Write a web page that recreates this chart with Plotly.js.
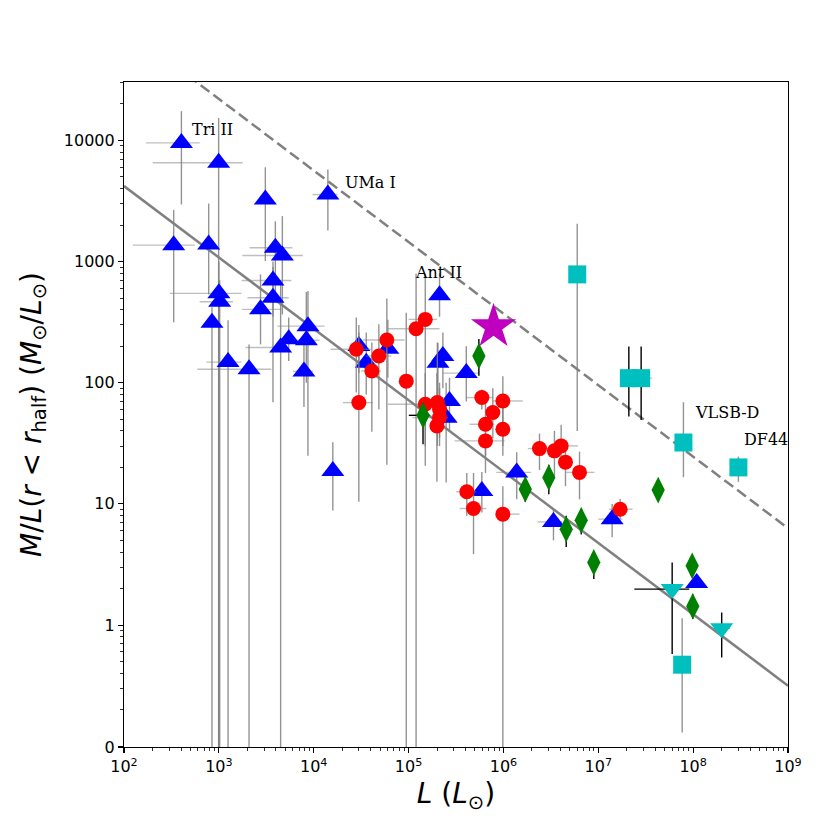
<!DOCTYPE html>
<html>
<head>
<meta charset="utf-8">
<script src="https://cdn.plot.ly/plotly-3.0.1.min.js"></script>
<style>html,body{margin:0;padding:0;background:#fff;}#chart{width:830px;height:830px;}</style>
</head>
<body>
<div id="chart"></div>
<script>
// ---------------- data ----------------
// reference relations
const fitL = [1e2, 1e9];
const fitML = [4190, 0.316];
const boundML = [85500, 6.3];

// Milky Way dwarfs (blue triangles)
const mwL   = [403, 995, 3090, 14100, 334, 781, 3940, 4670, 3720, 3720, 1000, 1020, 846, 1250, 2080, 2750, 4480, 5450, 8360, 8690, 7890, 15900, 29900, 35800, 60500, 204000, 230000, 406000, 270000, 249000, 592000, 1380000, 3370000, 14000000, 109000000, 212000];
const mwML  = [9530, 6530, 3250, 3570, 1365, 1380, 1300, 1122, 698, 503, 546, 465, 313, 148, 129, 403, 195, 228, 224, 293, 124, 18.7, 201, 146, 191, 146, 166, 120, 70.7, 51.5, 12.8, 18.2, 7.1, 7.48, 2.22, 528];
const mwLlo = [170, 201, null, 9720, 124, null, 2110, 1770, 1740, 2000, 303, 628, null, 738, 593, 1750, 1910, null, 6560, 4130, 6040, null, null, null, null, null, null, 230000, null, null, null, 840000, 2290000, 10000000, null, null];
const mwLhi = [628, 1780, null, 17800, 556, null, 5960, 7690, 5810, 5450, 1727, 1410, null, 1730, 3570, 4560, 4930, null, 11500, 13000, 9820, null, null, null, null, null, null, 537000, null, null, null, 1960000, 4170000, 18000000, null, null];
const mwMLlo = [2960, 0, 1010, 1800, 315, 535, 500, 366, 350, 69, 0, 0, 0, 0, 0, 207, 0, 151, 100, 25, 63, 8.8, 120, 80, 110, 60, 90, 70, 40, 15, 8.5, 10.9, 5, 5.3, null, 350];
const mwMLhi = [17400, 15300, 6000, 5740, 2670, 3010, 2150, 2370, 1000, 900, 1000, 700, 420, 327, 207, 783, 700, 346, 560, 570, 250, 32.3, 300, 260, 330, 214, 260, 200, 110, 100, 18.3, 26.7, 9, 10, null, 800];

// M31 dwarfs (red circles)
const m31L   = [28100, 29900, 41000, 48600, 59000, 94600, 120000, 150000, 150000, 201000, 212000, 212000, 199000, 592000, 986000, 773000, 647000, 986000, 647000, 411000, 484000, 986000, 2400000, 3450000, 4060000, 4510000, 6340000, 17000000];
const m31ML  = [189, 68.5, 125, 166, 225, 103, 279, 333, 66.4, 68.5, 60.4, 51.5, 44, 75.4, 70.7, 56.7, 45.4, 41.3, 33.1, 12.6, 9.16, 8.23, 28.6, 27.4, 30.1, 22.1, 18.2, 9.04];
const m31Llo = [15000, 20300, 31600, 35800, 33000, null, 60500, 100000, 60500, null, null, 110000, null, 406000, 773000, null, 440000, null, 305000, 318000, 345000, 840000, 1810000, null, 3900000, null, 4600000, 13000000];
const m31Lhi = [40000, 42100, 51000, 65800, 90800, null, 212000, 200000, 200000, null, null, 260000, null, 773000, 1600000, null, 800000, null, 1030000, 517000, 660000, 1480000, 3190000, null, 6100000, null, 9100000, 23000000];
const m31MLlo = [83, 10.4, 39.3, 60.4, 21, 0, 0, 20.6, 30, 30, 35, 30, 15.2, 60, 30, 35, 25, 25, 18, 8, 3.85, 0, 19, 17, 20, 14, 10.9, 7.5];
const m31MLhi = [346, 260, 215, 303, 496, 378, 794, 794, 120, 214, 100, 90, 120, 88, 113, 90, 70, 65, 50, 18, 18, 14, 38, 40, 45, 32, 27, 11];

// green diamonds
const gL    = [142000, 551000, 1700000, 3010000, 4590000, 6610000, 8970000, 42800000, 97700000, 99100000];
const gML   = [53.8, 166, 13.2, 16.5, 6.19, 7.34, 3.29, 13.0, 3.08, 1.43];
const gLlo  = [100700, null, null, null, null, null, null, null, null, null];
const gLhi  = [166000, null, null, null, null, null, null, null, null, null];
const gMLlo = [31, 114, 10.4, 12, 4.4, 5.6, 2.4, 11, 2.7, 1.12];
const gMLhi = [68, 229, 17, 21, 8, 9, 4, 15, 3.5, 1.8];

// cyan squares (grey error bars)
const sqL    = [6000000, 79000000, 300000000, 76600000];
const sqML   = [783, 32.1, 20, 0.471];
const sqMLlo = [39.9, 16.6, 15.2, 0.13];
const sqMLhi = [2050, 69, 24.6, 1.14];
// cyan squares (black error bars)
const sqbL    = [21000000, 28300000];
const sqbML   = [109, 109];
const sqbLlo  = [null, null];
const sqbLhi  = [null, 37000000];
const sqbMLlo = [52.6, 49.3];
const sqbMLhi = [199, 199];

// cyan down triangles
const tdL    = [60100000, 200000000];
const tdML   = [1.98, 0.94];
const tdLlo  = [24000000, 167000000];
const tdLhi  = [91000000, 241000000];
const tdMLlo = [0.577, 0.54];
const tdMLhi = [3.29, 1.27];

// star
const starL  = [787000];
const starML = [290];

// labels
const labNames = ['Tri II', 'UMa I', 'Ant II', 'VLSB-D', 'DF44'];
const labL     = [501, 20300, 111000, 100700000, 325000000];
const labML    = [12400, 4510, 805, 57, 33.8];

// ticks
const xTickVals = [1e2, 1e3, 1e4, 1e5, 1e6, 1e7, 1e8, 1e9];
const xTickText = ['10<sup>2</sup>', '10<sup>3</sup>', '10<sup>4</sup>', '10<sup>5</sup>', '10<sup>6</sup>', '10<sup>7</sup>', '10<sup>8</sup>', '10<sup>9</sup>'];
const yZero = 0.0986;
const yTickVals = [yZero, 1, 10, 100, 1000, 10000];
const yTickText = ['0', '1', '10', '100', '1000', '10000'];
const minorSubs = [2, 3, 4, 5, 6, 7, 8, 9];

// ---------------- helpers ----------------
function plus(v, hi)  { return v.map((x, i) => hi[i] == null ? NaN : hi[i] - x); }
function minus(v, lo) { return v.map((x, i) => lo[i] == null ? NaN : x - lo[i]); }
function minors(d0, d1) { const out = []; for (let d = d0; d <= d1; d++) minorSubs.forEach(s => out.push(s * Math.pow(10, d))); return out; }

const GREY_Y = 'rgba(128,128,128,0.85)';
const GREY_X = 'rgba(128,128,128,0.5)';

function errBar(v, lo, hi, color) { return {type: 'data', symmetric: false, array: plus(v, hi), arrayminus: minus(v, lo), color: color, thickness: 1.4, width: 0}; }

const traces = [
  {x: fitL, y: fitML, mode: 'lines', line: {color: '#808080', width: 2.5}, hoverinfo: 'skip'},
  {x: fitL, y: boundML, mode: 'lines', line: {color: '#808080', width: 2.5, dash: '11px,5px'}, hoverinfo: 'skip'},
  {x: mwL, y: mwML, mode: 'markers', marker: {symbol: 'triangle-up', size: 20, color: '#0000ff'},
   error_y: errBar(mwML, mwMLlo, mwMLhi, GREY_Y), error_x: errBar(mwL, mwLlo, mwLhi, GREY_X)},
  {x: m31L, y: m31ML, mode: 'markers', marker: {symbol: 'circle', size: 15, color: '#ff0000'},
   error_y: errBar(m31ML, m31MLlo, m31MLhi, GREY_Y), error_x: errBar(m31L, m31Llo, m31Lhi, GREY_X)},
  {x: gL, y: gML, mode: 'markers', marker: {symbol: 'diamond-tall', size: 19, color: '#008000'},
   error_y: errBar(gML, gMLlo, gMLhi, '#000'), error_x: errBar(gL, gLlo, gLhi, '#000')},
  {x: sqL, y: sqML, mode: 'markers', marker: {symbol: 'square', size: 18, color: '#00bfbf'},
   error_y: errBar(sqML, sqMLlo, sqMLhi, GREY_Y)},
  {x: sqbL, y: sqbML, mode: 'markers', marker: {symbol: 'square', size: 18, color: '#00bfbf'},
   error_y: errBar(sqbML, sqbMLlo, sqbMLhi, '#000'), error_x: errBar(sqbL, sqbLlo, sqbLhi, GREY_X)},
  {x: tdL, y: tdML, mode: 'markers', marker: {symbol: 'triangle-down', size: 20, color: '#00bfbf'},
   error_y: errBar(tdML, tdMLlo, tdMLhi, '#000'), error_x: errBar(tdL, tdLlo, tdLhi, '#000')},
  {x: starL, y: starML, mode: 'markers', marker: {symbol: 'star', size: 34, color: '#bf00bf'}}
];

const annotations = labNames.map((t, i) => ({
  x: Math.log10(labL[i]), y: Math.log10(labML[i]), xref: 'x', yref: 'y', text: t, showarrow: false,
  xanchor: 'left', yanchor: 'middle', font: {family: 'DejaVu Serif', size: 16, color: '#000'}
}));

const axisBase = {
  type: 'log', showgrid: false, zeroline: false, showline: true, mirror: true,
  linecolor: '#000', linewidth: 1.1, ticks: 'outside', ticklen: 5, tickwidth: 1.1, tickcolor: '#000',
  tickfont: {family: 'DejaVu Sans', size: 16, color: '#000'}, tickmode: 'array', automargin: false
};

const layout = {
  width: 830, height: 830,
  margin: {l: 124, r: 42, t: 82, b: 83, pad: 0},
  paper_bgcolor: '#fff', plot_bgcolor: '#fff', showlegend: false,
  font: {family: 'DejaVu Sans', color: '#000'},
  xaxis: Object.assign({}, axisBase, {
    range: [2, 9], tickvals: xTickVals, ticktext: xTickText,
    minor: {tickmode: 'array', tickvals: minors(2, 8), ticks: 'outside', ticklen: 3, tickwidth: 0.8, tickcolor: '#000', showgrid: false},
    title: {text: '<i>L</i> (<i>L</i><sub>⊙</sub>)', font: {family: 'DejaVu Sans', size: 28, color: '#000'}, standoff: 8}
  }),
  yaxis: Object.assign({}, axisBase, {
    range: [Math.log10(yZero), Math.log10(30300)], tickvals: yTickVals, ticktext: yTickText,
    minor: {tickmode: 'array', tickvals: minors(-1, 4), ticks: 'outside', ticklen: 3, tickwidth: 0.8, tickcolor: '#000', showgrid: false},
    title: {text: '<i>M</i>/<i>L</i>(<i>r</i> &lt; <i>r</i><sub>half</sub>) (<i>M</i><sub>⊙</sub>/<i>L</i><sub>⊙</sub>)', font: {family: 'DejaVu Sans', size: 28, color: '#000'}, standoff: 14}
  }),
  annotations: annotations
};

Plotly.newPlot('chart', traces, layout, {displayModeBar: false, staticPlot: true});
</script>
</body>
</html>
